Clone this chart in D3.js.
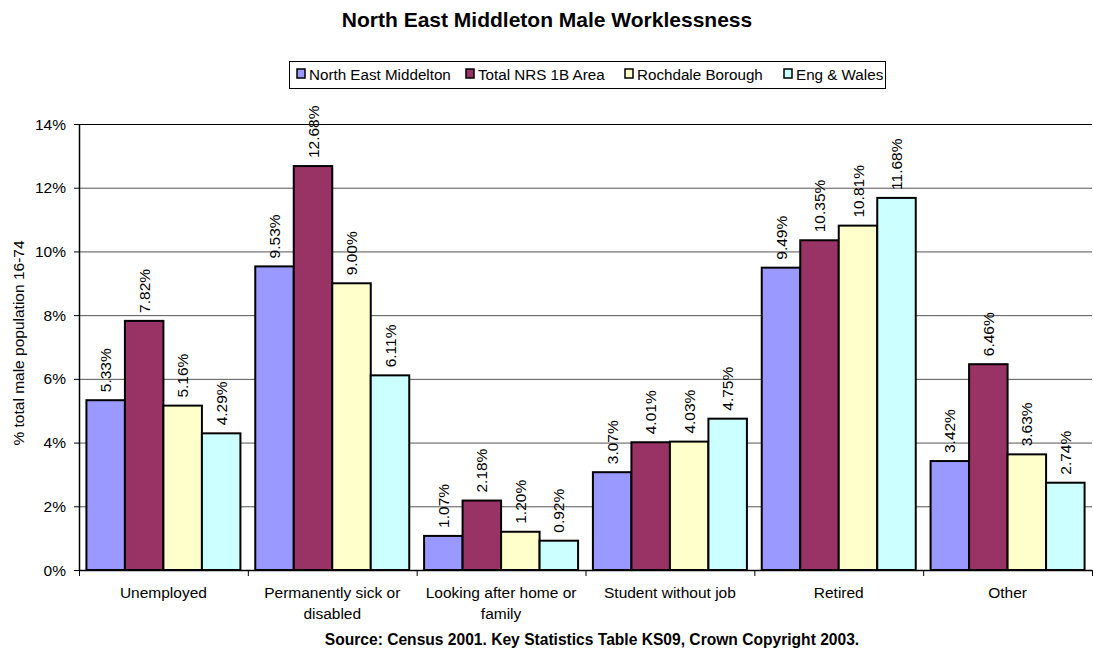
<!DOCTYPE html>
<html><head><meta charset="utf-8">
<script src="https://cdn.jsdelivr.net/npm/d3@7"></script>
<style>body{margin:0;background:#fff;font-family:"Liberation Sans",Arial,sans-serif;}</style>
</head><body><svg id="c" width="1093" height="650"></svg>
<script>
const categories = [["Unemployed"],["Permanently sick or","disabled"],["Looking after home or","family"],["Student without job"],["Retired"],["Other"]];
const seriesNames = ["North East Middelton","Total NRS 1B Area","Rochdale Borough","Eng & Wales"];
const seriesColors = ["#9999FF","#993366","#FFFFCC","#CCFFFF"];
const northEastMiddelton = [5.33,9.53,1.07,3.07,9.49,3.42];
const totalNRS1B = [7.82,12.68,2.18,4.01,10.35,6.46];
const rochdaleBorough = [5.16,9.00,1.20,4.03,10.81,3.63];
const engWales = [4.29,6.11,0.92,4.75,11.68,2.74];
const yTicks = [0,2,4,6,8,10,12,14];
const series = [northEastMiddelton,totalNRS1B,rochdaleBorough,engWales];

const svg = d3.select("#c");
const m = {l:79, r:1092, t:124, b:570};
const x = d3.scaleBand().domain(d3.range(categories.length)).range([m.l,m.r]).paddingInner(0).paddingOuter(0);
const y = d3.scaleLinear().domain([0,14]).range([m.b,m.t]);
const font = "Liberation Sans, Arial, sans-serif";
const fs = 15.5;

// gridlines
svg.append("g").selectAll("line").data(yTicks.filter(d=>d>0)).join("line")
  .attr("x1",m.l).attr("x2",m.r).attr("y1",d=>y(d)+0.5).attr("y2",d=>y(d)+0.5)
  .attr("stroke",d=>d===14?"#000":"#555").attr("stroke-width",1);

// bars
const bw = 38.5;
const off = (x.bandwidth()-4*bw)/2;
series.forEach((s,si)=>{
  const g = svg.append("g");
  g.selectAll("rect").data(s).join("rect")
    .attr("x",(d,i)=>x(i)+off+si*bw).attr("y",d=>y(d))
    .attr("width",bw).attr("height",d=>y(0)-y(d))
    .attr("fill",seriesColors[si]).attr("stroke","#000").attr("stroke-width",2);
  g.selectAll("text").data(s).join("text")
    .attr("transform",(d,i)=>`translate(${x(i)+off+si*bw+bw/2+5.5},${y(d)-8}) rotate(-90)`)
    .attr("font-family",font).attr("font-size",fs).attr("fill","#000")
    .text(d=>d.toFixed(2)+"%");
});

// axes
svg.append("line").attr("x1",m.l+0.5).attr("x2",m.l+0.5).attr("y1",m.t).attr("y2",m.b).attr("stroke","#000").attr("stroke-width",1.5);
svg.append("line").attr("x1",m.l).attr("x2",m.r).attr("y1",m.b+0.5).attr("y2",m.b+0.5).attr("stroke","#000").attr("stroke-width",1.5);
svg.append("g").selectAll("line").data(yTicks).join("line")
  .attr("x1",m.l-5).attr("x2",m.l).attr("y1",d=>y(d)+0.5).attr("y2",d=>y(d)+0.5).attr("stroke","#000");
svg.append("g").selectAll("text").data(yTicks).join("text")
  .attr("x",m.l-13).attr("y",d=>y(d)+5.5).attr("text-anchor","end")
  .attr("font-family",font).attr("font-size",fs).text(d=>d+"%");
const bounds = d3.range(categories.length+1).map(i=>m.l+i*x.bandwidth());
svg.append("g").selectAll("line").data(bounds).join("line")
  .attr("x1",d=>d+0.5).attr("x2",d=>d+0.5).attr("y1",m.b).attr("y2",m.b+6).attr("stroke","#000");
categories.forEach((c,i)=>{
  const t = svg.append("text").attr("text-anchor","middle").attr("font-family",font).attr("font-size",fs);
  c.forEach((line,li)=>t.append("tspan").attr("x",x(i)+x.bandwidth()/2).attr("y",598+li*21).text(line));
});

// y title
svg.append("text").attr("transform","translate(24,343) rotate(-90)").attr("text-anchor","middle")
  .attr("font-family",font).attr("font-size",fs).text("% total male population 16-74");

// title
svg.append("text").attr("x",547).attr("y",27).attr("text-anchor","middle").attr("font-family",font)
  .attr("font-size",21).attr("font-weight","bold").text("North East Middleton Male Worklessness");
// source
svg.append("text").attr("x",592).attr("y",645).attr("text-anchor","middle").attr("font-family",font)
  .attr("font-size",15.6).attr("font-weight","bold").text("Source: Census 2001. Key Statistics Table KS09, Crown Copyright 2003.");

// legend
const lg = svg.append("g");
lg.append("rect").attr("x",289.5).attr("y",61.5).attr("width",596).attr("height",27).attr("fill","#fff").attr("stroke","#000");
const lx = [297,466,625,784];
seriesNames.forEach((n,i)=>{
  lg.append("rect").attr("x",lx[i]).attr("y",69).attr("width",8).attr("height",9).attr("fill",seriesColors[i]).attr("stroke","#000").attr("stroke-width",1.5);
  lg.append("text").attr("x",lx[i]+12).attr("y",80).attr("font-family",font).attr("font-size",15.2).text(n);
});
</script></body></html>
